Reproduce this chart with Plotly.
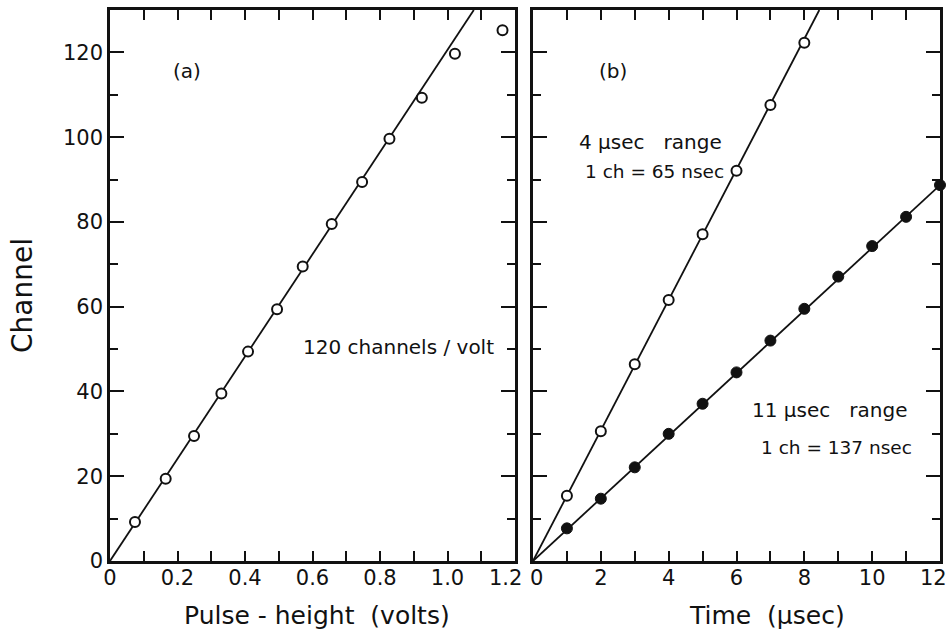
import plotly.graph_objects as go

# ---- data ----
pulse_height_v = [0.074, 0.165, 0.249, 0.330, 0.409, 0.495, 0.571, 0.657, 0.747, 0.828, 0.924, 1.022, 1.163]
channel_a = [9.2, 19.4, 29.5, 39.5, 49.4, 59.4, 69.5, 79.5, 89.4, 99.6, 109.3, 119.7, 125.2]
slope_a = 120.6  # channels per volt (fit line)

time_4us = [1, 2, 3, 4, 5, 6, 7, 8]
channel_4us = [15.4, 30.6, 46.4, 61.6, 77.1, 92.1, 107.6, 122.3]
slope_4us = 15.4  # channels per microsecond

time_11us = [1, 2, 3, 4, 5, 6, 7, 8, 9, 10, 11, 12]
channel_11us = [7.7, 14.7, 22.1, 30.0, 37.1, 44.5, 52.0, 59.5, 67.1, 74.3, 81.2, 88.7]
slope_11us = 7.39

y_max = 130
xa_max = 1.2
xb_max = 12

# tick labels; the edge labels (1.2, 0 and 12 where the panels meet) are placed as
# separate texts so that they do not collide, as in the original
xa_ticks = [0, 0.2, 0.4, 0.6, 0.8, 1.0, 1.2]
xa_ticklabels = ["0", "0.2", "0.4", "0.6", "0.8", "1.0", ""]
xb_ticks = [0, 2, 4, 6, 8, 10, 12]
xb_ticklabels = ["", "2", "4", "6", "8", "10", ""]
edge_labels = [("x", 1.2, "1.2", "center", -10), ("x2", 0, "0", "center", 3),
               ("x2", 12, "12", "right", 8)]

FONT = "DejaVu Sans"
INK = "#111111"

fig = go.Figure()

# panel (a)
fig.add_trace(go.Scatter(x=[0, y_max / slope_a], y=[0, y_max], mode="lines",
                         line=dict(color=INK, width=1.8), xaxis="x", yaxis="y",
                         showlegend=False, hoverinfo="skip"))
fig.add_trace(go.Scatter(x=pulse_height_v, y=channel_a, mode="markers",
                         marker=dict(symbol="circle", size=10, color="white",
                                     line=dict(color=INK, width=2)),
                         xaxis="x", yaxis="y", showlegend=False, cliponaxis=False))

# panel (b)
fig.add_trace(go.Scatter(x=[0, y_max / slope_4us], y=[0, y_max], mode="lines",
                         line=dict(color=INK, width=1.8), xaxis="x2", yaxis="y2",
                         showlegend=False, hoverinfo="skip"))
fig.add_trace(go.Scatter(x=[0, xb_max], y=[0, slope_11us * xb_max], mode="lines",
                         line=dict(color=INK, width=1.8), xaxis="x2", yaxis="y2",
                         showlegend=False, hoverinfo="skip"))
fig.add_trace(go.Scatter(x=time_4us, y=channel_4us, mode="markers",
                         marker=dict(symbol="circle", size=10, color="white",
                                     line=dict(color=INK, width=2)),
                         xaxis="x2", yaxis="y2", showlegend=False, cliponaxis=False))
fig.add_trace(go.Scatter(x=time_11us, y=channel_11us, mode="markers",
                         marker=dict(symbol="circle", size=11, color=INK,
                                     line=dict(color=INK, width=1)),
                         xaxis="x2", yaxis="y2", showlegend=False, cliponaxis=False))

tickfont = dict(family=FONT, size=21, color=INK)
titlefont = dict(family=FONT, size=25, color=INK)

common_x = dict(showline=True, linewidth=2.5, linecolor=INK, mirror="allticks",
                ticks="inside", ticklen=10, tickwidth=2.2, tickcolor=INK,
                showgrid=False, zeroline=False, tickfont=tickfont, automargin=False,
                ticklabeloverflow="allow", ticklabelstandoff=-4)
common_y = dict(showline=True, linewidth=2.5, linecolor=INK, mirror="allticks",
                ticks="inside", ticklen=14, tickwidth=2.2, tickcolor=INK,
                showgrid=False, zeroline=False, tickfont=tickfont, automargin=False,
                range=[0, y_max], tick0=0, dtick=20,
                minor=dict(ticks="inside", ticklen=8, tickwidth=2.2, tickcolor=INK, dtick=10, tick0=0))

dom_a = [110 / 949, 515 / 949]
dom_b = [533 / 949, 940 / 949]
dom_y = [1 - 561 / 634, 1 - 10 / 634]

fig.update_layout(
    width=949, height=634,
    margin=dict(l=0, r=0, t=0, b=0, autoexpand=False),
    paper_bgcolor="white", plot_bgcolor="white",
    font=dict(family=FONT, color=INK),
    xaxis=dict(common_x, domain=dom_a, anchor="y", range=[0, xa_max],
               tickvals=xa_ticks, ticktext=xa_ticklabels,
               minor=dict(ticks="inside", ticklen=10, tickwidth=2.2, tickcolor=INK, dtick=0.1, tick0=0)),
    yaxis=dict(common_y, domain=dom_y, anchor="x"),
    xaxis2=dict(common_x, domain=dom_b, anchor="y2", range=[0, xb_max],
                tickvals=xb_ticks, ticktext=xb_ticklabels,
                minor=dict(ticks="inside", ticklen=10, tickwidth=2.2, tickcolor=INK, dtick=1, tick0=0)),
    yaxis2=dict(common_y, domain=dom_y, anchor="x2", showticklabels=False),
)

ann_font = dict(family=FONT, size=20, color=INK)
ann_font_s = dict(family=FONT, size=18.5, color=INK)
annotations = [
    # axis titles
    dict(text="Channel", x=22 / 949, y=1 - 296 / 634, xref="paper", yref="paper",
         xanchor="center", yanchor="middle",
         textangle=-90, showarrow=False, font=dict(family=FONT, size=28, color=INK)),
    dict(text="Pulse - height  (volts)", x=317 / 949, y=1 - 615 / 634, xref="paper", yref="paper",
         xanchor="center", yanchor="middle", showarrow=False, font=titlefont),
    dict(text="Time  (μsec)", x=767 / 949, y=1 - 615 / 634, xref="paper", yref="paper",
         xanchor="center", yanchor="middle", showarrow=False, font=titlefont),
    # panel labels and notes
    dict(text="(a)", x=0.228, y=115.7, xref="x", yref="y", showarrow=False, font=ann_font),
    dict(text="120 channels / volt", x=0.567, y=50.4, xref="x", yref="y", showarrow=False,
         xanchor="left", font=ann_font),
    dict(text="(b)", x=2.36, y=115.7, xref="x2", yref="y2", showarrow=False, font=ann_font),
    dict(text="4 μsec   range", x=1.3, y=98.9, xref="x2", yref="y2", showarrow=False,
         xanchor="left", font=ann_font),
    dict(text="1 ch = 65 nsec", x=1.47, y=91.8, xref="x2", yref="y2", showarrow=False,
         xanchor="left", font=ann_font_s),
    dict(text="11 μsec   range", x=6.4, y=35.7, xref="x2", yref="y2", showarrow=False,
         xanchor="left", font=ann_font),
    dict(text="1 ch = 137 nsec", x=6.66, y=26.7, xref="x2", yref="y2", showarrow=False,
         xanchor="left", font=ann_font_s),
]
for ax, val, txt, anchor, shift in edge_labels:
    annotations.append(dict(text=txt, x=val, y=1 - 578 / 634, xref=ax, yref="paper",
                            xanchor=anchor, yanchor="middle", xshift=shift,
                            borderpad=0, showarrow=False, font=tickfont))
fig.update_layout(annotations=annotations)

fig.write_html("out.html")
